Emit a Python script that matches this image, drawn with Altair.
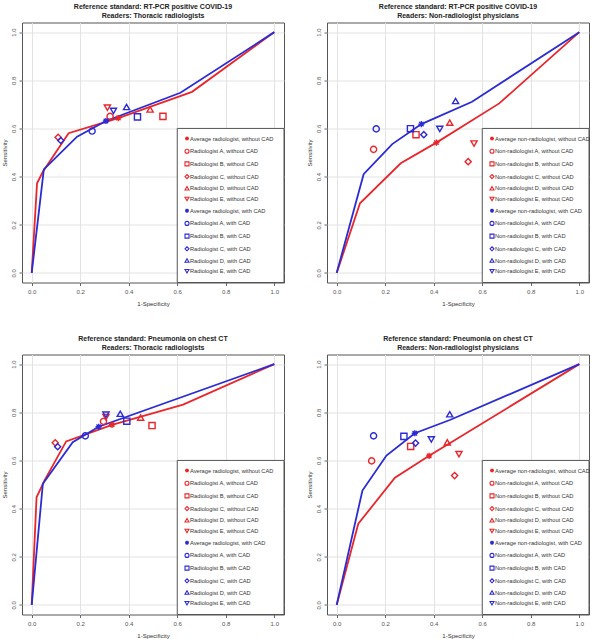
import altair as alt
import pandas as pd

# ---------------- data ----------------
TICKS = [0.0, 0.2, 0.4, 0.6, 0.8, 1.0]

rad_labels = [
    "Average radiologist, without CAD", "Radiologist A, without CAD", "Radiologist B, without CAD",
    "Radiologist C, without CAD", "Radiologist D, without CAD", "Radiologist E, without CAD",
    "Average radiologist, with CAD", "Radiologist A, with CAD", "Radiologist B, with CAD",
    "Radiologist C, with CAD", "Radiologist D, with CAD", "Radiologist E, with CAD",
]
nonrad_labels = [
    "Average non-radiologist, without CAD", "Non-radiologist A, without CAD", "Non-radiologist B, without CAD",
    "Non-radiologist C, without CAD", "Non-radiologist D, without CAD", "Non-radiologist E, without CAD",
    "Average non-radiologist, with CAD", "Non-radiologist A, with CAD", "Non-radiologist B, with CAD",
    "Non-radiologist C, with CAD", "Non-radiologist D, with CAD", "Non-radiologist E, with CAD",
]

# Panel 1: RT-PCR, thoracic radiologists  (order: avg, A, B, C, D, E without; then with)
p1_x = [0.357, 0.323, 0.541, 0.109, 0.488, 0.312, 0.306, 0.249, 0.436, 0.120, 0.391, 0.337]
p1_y = [0.643, 0.650, 0.650, 0.563, 0.679, 0.686, 0.631, 0.589, 0.648, 0.550, 0.689, 0.673]
p1_red_x = [0.0, 0.022, 0.046, 0.152, 0.357, 0.661, 1.0]
p1_red_y = [0.0, 0.372, 0.420, 0.580, 0.643, 0.752, 1.0]
p1_blue_x = [0.0, 0.050, 0.187, 0.306, 0.613, 1.0]
p1_blue_y = [0.0, 0.430, 0.566, 0.631, 0.748, 1.0]

# Panel 2: RT-PCR, non-radiologist physicians
p2_x = [0.411, 0.152, 0.327, 0.542, 0.466, 0.566, 0.349, 0.163, 0.304, 0.359, 0.490, 0.425]
p2_y = [0.541, 0.513, 0.574, 0.462, 0.624, 0.537, 0.618, 0.598, 0.599, 0.574, 0.714, 0.598]
p2_red_x = [0.0, 0.096, 0.264, 0.411, 0.670, 1.0]
p2_red_y = [0.0, 0.289, 0.455, 0.541, 0.704, 1.0]
p2_blue_x = [0.0, 0.111, 0.229, 0.349, 0.558, 1.0]
p2_blue_y = [0.0, 0.410, 0.535, 0.618, 0.711, 1.0]

# Panel 3: Pneumonia on CT, thoracic radiologists
p3_x = [0.331, 0.296, 0.496, 0.097, 0.449, 0.306, 0.276, 0.221, 0.392, 0.107, 0.365, 0.306]
p3_y = [0.748, 0.762, 0.745, 0.673, 0.778, 0.780, 0.740, 0.702, 0.763, 0.657, 0.794, 0.790]
p3_red_x = [0.0, 0.020, 0.053, 0.142, 0.331, 0.624, 1.0]
p3_red_y = [0.0, 0.447, 0.517, 0.679, 0.748, 0.832, 1.0]
p3_blue_x = [0.0, 0.046, 0.169, 0.276, 1.0]
p3_blue_y = [0.0, 0.503, 0.676, 0.740, 1.0]

# Panel 4: Pneumonia on CT, non-radiologist physicians
p4_x = [0.381, 0.144, 0.305, 0.486, 0.456, 0.504, 0.322, 0.152, 0.277, 0.325, 0.466, 0.390]
p4_y = [0.619, 0.598, 0.658, 0.537, 0.675, 0.626, 0.713, 0.702, 0.700, 0.672, 0.792, 0.687]
p4_red_x = [0.0, 0.089, 0.240, 0.381, 1.0]
p4_red_y = [0.0, 0.337, 0.528, 0.619, 1.0]
p4_blue_x = [0.0, 0.106, 0.205, 0.322, 0.469, 1.0]
p4_blue_y = [0.0, 0.475, 0.620, 0.713, 0.769, 1.0]

titles = [
    ["Reference standard: RT-PCR positive COVID-19", "Readers: Thoracic radiologists"],
    ["Reference standard: RT-PCR positive COVID-19", "Readers: Non-radiologist physicians"],
    ["Reference standard: Pneumonia on chest CT", "Readers: Thoracic radiologists"],
    ["Reference standard: Pneumonia on chest CT", "Readers: Non-radiologist physicians"],
]

# ---------------- styles ----------------
RED = "#E8262B"
BLUE = "#2B2BD6"
FONT = "Liberation Sans"
STAR = "M-1,0L1,0M0,-1L0,1M-0.72,-0.72L0.72,0.72M-0.72,0.72L0.72,-0.72"
shape_range = [STAR, "circle", "square", "diamond", "triangle-up", "triangle-down"] * 2
color_range = [RED] * 6 + [BLUE] * 6
W, H = 262, 260
DOM = [-0.04, 1.04]
LEG_X0, LEG_Y1 = 0.6, 0.6
LEG_SYM = 16


def panel(title, labels, px, py, rx, ry, bx, by):
    xs = alt.Scale(domain=DOM, nice=False, zero=False)
    ys = alt.Scale(domain=DOM, nice=False, zero=False)
    xaxis = alt.Axis(values=TICKS, format=".1f", title="1-Specificity",
                     labelPadding=3, titlePadding=6)
    yaxis = alt.Axis(values=TICKS, format=".1f", title="Sensitivity",
                     labelAngle=270, labelAlign="center", labelBaseline="bottom",
                     labelPadding=3, titlePadding=3)

    box_df = pd.DataFrame({"x": [LEG_X0], "x2": [DOM[1]], "y": [DOM[0]], "y2": [LEG_Y1]})
    box = alt.Chart(box_df).mark_rect(fill="white", stroke="#555555", strokeWidth=1).encode(
        x=alt.X("x:Q", scale=xs, axis=xaxis), x2="x2:Q",
        y=alt.Y("y:Q", scale=ys, axis=yaxis), y2="y2:Q",
    )

    red = alt.Chart(pd.DataFrame({"fpr": rx, "sens": ry})).mark_line(
        color=RED, strokeWidth=1.8).encode(x=alt.X("fpr:Q", scale=xs), y=alt.Y("sens:Q", scale=ys))
    blue = alt.Chart(pd.DataFrame({"fpr": bx, "sens": by})).mark_line(
        color=BLUE, strokeWidth=1.8).encode(x=alt.X("fpr:Q", scale=xs), y=alt.Y("sens:Q", scale=ys))

    legend = alt.Legend(
        orient="none", legendX=162, legendY=113, padding=0,
        symbolSize=LEG_SYM, symbolStrokeWidth=1.1, labelFontSize=5.7, labelFont=FONT,
        labelColor="#333333", labelOffset=0, rowPadding=2.7, labelLimit=0,
    )
    pts_df = pd.DataFrame({"label": labels, "fpr": px, "sens": py})
    pts = alt.Chart(pts_df).mark_point(filled=False, strokeWidth=1.4, opacity=1).encode(
        x=alt.X("fpr:Q", scale=xs),
        y=alt.Y("sens:Q", scale=ys),
        size=alt.value(38),
        color=alt.Color("label:N", scale=alt.Scale(domain=labels, range=color_range),
                        legend=legend, title=None),
        shape=alt.Shape("label:N", scale=alt.Scale(domain=labels, range=shape_range),
                        legend=legend, title=None),
    )

    return alt.layer(box, red, blue, pts).properties(
        width=W, height=H,
        title=alt.TitleParams(text=title, fontSize=7, fontWeight="bold", font=FONT,
                              color="#222222", anchor="middle", lineHeight=8.7, offset=3.5),
    )


c1 = panel(titles[0], rad_labels, p1_x, p1_y, p1_red_x, p1_red_y, p1_blue_x, p1_blue_y)
c2 = panel(titles[1], nonrad_labels, p2_x, p2_y, p2_red_x, p2_red_y, p2_blue_x, p2_blue_y)
c3 = panel(titles[2], rad_labels, p3_x, p3_y, p3_red_x, p3_red_y, p3_blue_x, p3_blue_y)
c4 = panel(titles[3], nonrad_labels, p4_x, p4_y, p4_red_x, p4_red_y, p4_blue_x, p4_blue_y)

chart = alt.concat(c1, c2, c3, c4, columns=2, spacing={"row": 27, "column": 20}).resolve_scale(
    color="independent", shape="independent", x="independent", y="independent"
).resolve_legend(color="independent", shape="independent").properties(
    padding={"left": 0, "top": 2.5, "right": 0, "bottom": 0},
    background="white",
).configure_view(stroke="#555555", strokeWidth=1).configure_axis(
    grid=True, gridColor="#e2e2e2", gridWidth=1, domain=False,
    tickColor="#666666", tickSize=3, labelColor="#555555", labelFontSize=6, labelFont=FONT,
    titleFontSize=6, titleFont=FONT, titleFontWeight="normal", titleColor="#333333",
).configure_legend(symbolSize=LEG_SYM)

chart.save("out.html", embed_options={"renderer": "svg", "actions": False})
